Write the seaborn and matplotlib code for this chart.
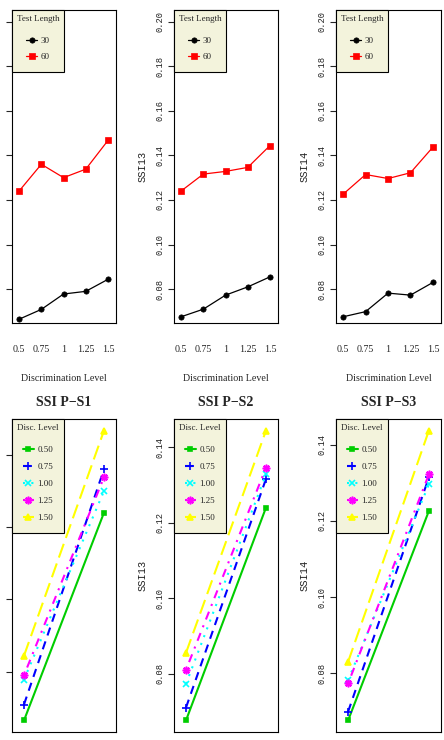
import numpy as np
import pandas as pd
import matplotlib
matplotlib.use("Agg")
import matplotlib.pyplot as plt
import seaborn as sns

# ---------------- data ----------------
disc_levels = ["0.5", "0.75", "1", "1.25", "1.5"]
disc_legend = ["0.50", "0.75", "1.00", "1.25", "1.50"]
test_lengths = ["30", "60"]
panel_titles = ["SSI P\u2212S1", "SSI P\u2212S2", "SSI P\u2212S3"]
y_labels = ["SSI12", "SSI13", "SSI14"]

p1_len30 = [0.0665, 0.0709, 0.0778, 0.0790, 0.0844]
p1_len60 = [0.1240, 0.1360, 0.1300, 0.1338, 0.1467]
p2_len30 = [0.0676, 0.0710, 0.0773, 0.0810, 0.0855]
p2_len60 = [0.1240, 0.1316, 0.1328, 0.1346, 0.1444]
p3_len30 = [0.0676, 0.0699, 0.0782, 0.0773, 0.0830]
p3_len60 = [0.1226, 0.1314, 0.1296, 0.1322, 0.1437]

top_ylim = (0.07, 0.20)
top_yticks = [0.08, 0.10, 0.12, 0.14, 0.16, 0.18, 0.20]
bottom_yticks = [0.08, 0.10, 0.12, 0.14]

panels = [(p1_len30, p1_len60), (p2_len30, p2_len60), (p3_len30, p3_len60)]

# ---------------- style ----------------
sns.set_style("white")
plt.rcParams["font.family"] = ["Liberation Serif", "DejaVu Serif"]
plt.rcParams["axes.edgecolor"] = "black"
plt.rcParams["axes.linewidth"] = 0.8

len_colors = ["black", "red"]
len_markers = ["o", "s"]
disc_colors = ["#00CD00", "#0000FF", "#00FFFF", "#FF00FF", "#FFFF00"]
disc_markers = ["s", "+", "x", (8, 2, 0), "^"]
disc_dashes = ["-", (0, (4, 3)), (0, (1, 3)), (0, (1, 3, 4, 3)), (0, (7, 3))]
disc_ms = [3.5, 6, 4.5, 5.5, 4]

W, H = 444, 740
def rect(x0, y0, x1, y1):
    return [x0 / W, 1 - y1 / H, (x1 - x0) / W, (y1 - y0) / H]

col_x = [(12, 116), (174, 278), (336, 441)]
top_y = (10, 323)
bot_y = (419, 732)

fig = plt.figure(figsize=(4.44, 7.40), dpi=100)
mono = ["Liberation Mono", "DejaVu Sans Mono"]

def style_y(ax, ticks, label):
    ax.set_yticks(ticks)
    ax.set_yticklabels([f"{t:.2f}" for t in ticks], family=mono, fontsize=6.3,
                       rotation=90, va="center", ha="right", color="#222222")
    ax.tick_params(axis="y", direction="out", length=4.2, width=0.8, pad=3, left=True)
    ax.set_ylabel(label, family=mono, fontsize=7.5, color="#222222")
    ax.yaxis.set_label_coords(-0.255, 0.5)

def legend(ax, title, labelspacing, title_sep):
    leg = ax.legend(title=title, loc="upper left", borderaxespad=0, fontsize=6.5,
                    title_fontsize=6.5, fancybox=False, edgecolor="black",
                    facecolor="#F3F3DC", framealpha=1, handlelength=1.25,
                    handletextpad=0.35, labelspacing=labelspacing, borderpad=0.5)
    leg.get_frame().set_linewidth(0.8)
    leg._legend_box.sep = title_sep
    leg._legend_handle_box.pad = 4.5
    return leg

pos_top = np.arange(len(disc_levels))
pos_bot = np.arange(len(test_lengths))

for i, (v30, v60) in enumerate(panels):
    # ---------- top row: x = discrimination level ----------
    ax = fig.add_axes(rect(col_x[i][0], top_y[0], col_x[i][1], top_y[1]))
    df = pd.DataFrame({"pos": np.concatenate([pos_top, pos_top]),
                       "val": v30 + v60,
                       "len": [test_lengths[0]] * 5 + [test_lengths[1]] * 5})
    for j, tl in enumerate(test_lengths):
        sub = df[df["len"] == tl]
        sns.lineplot(data=sub, x="pos", y="val", ax=ax, color=len_colors[j],
                     marker=len_markers[j], markersize=3.8, markeredgecolor=len_colors[j],
                     markeredgewidth=0.5, linewidth=0.9, label=tl)
    r = top_ylim[1] - top_ylim[0]
    ax.set_ylim(top_ylim[0] - 0.04 * r, top_ylim[1] + 0.04 * r)
    ax.set_xlim(-0.32, 4.36)
    ax.set_xticks(pos_top)
    ax.set_xticklabels(disc_levels, fontsize=7.2)
    ax.tick_params(axis="x", length=0, pad=16)
    ax.set_xlabel("Discrimination Level", fontsize=7.2)
    ax.xaxis.set_label_coords(0.5, -0.162)
    style_y(ax, top_yticks, y_labels[i])
    ax.set_title(panel_titles[i], fontsize=10, fontweight="bold", pad=9)
    legend(ax, "Test Length", 0.85, 6.0)

    # ---------- bottom row: x = test length ----------
    ax = fig.add_axes(rect(col_x[i][0], bot_y[0], col_x[i][1], bot_y[1]))
    for k, dl in enumerate(disc_legend):
        dfk = pd.DataFrame({"pos": pos_bot, "val": [v30[k], v60[k]]})
        sns.lineplot(data=dfk, x="pos", y="val", ax=ax, color=disc_colors[k],
                     marker=disc_markers[k], markersize=disc_ms[k],
                     markeredgecolor=disc_colors[k], markerfacecolor=disc_colors[k],
                     markeredgewidth=1.2, linewidth=1.5, linestyle=disc_dashes[k],
                     label=dl)
    allv = np.array(v30 + v60)
    lo, hi = allv.min(), allv.max()
    ax.set_ylim(lo - 0.04 * (hi - lo), hi + 0.04 * (hi - lo))
    ax.set_xlim(-0.15, 1.15)
    ax.set_xticks(pos_bot)
    ax.set_xticklabels(test_lengths, fontsize=7.2)
    ax.tick_params(axis="x", length=0, pad=16)
    ax.set_xlabel("Test Length", fontsize=7.2)
    ax.xaxis.set_label_coords(0.5, -0.162)
    style_y(ax, bottom_yticks, y_labels[i])
    ax.set_title(panel_titles[i], fontsize=10, fontweight="bold", pad=9)
    legend(ax, "Disc. Level", 0.95, 6.0)

fig.savefig("out.png", dpi=100)
